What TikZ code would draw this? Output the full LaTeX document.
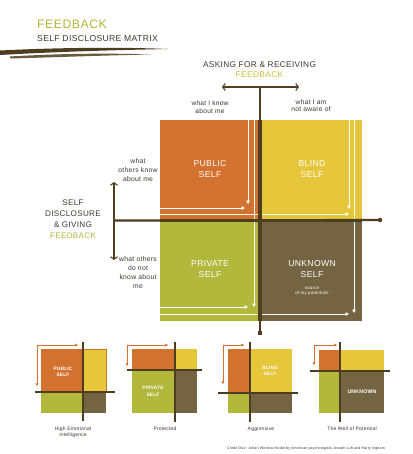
\documentclass[tikz,border=0pt]{standalone}
\usepackage{fontspec}
\setmainfont{Liberation Sans}[LetterSpace=4]
\usetikzlibrary{arrows.meta}
\definecolor{qorange}{HTML}{D3722F}
\definecolor{qyellow}{HTML}{E6C63B}
\definecolor{qgreen}{HTML}{B2B83C}
\definecolor{qbrown}{HTML}{746442}
\definecolor{linedark}{HTML}{4E3D1F}
\definecolor{textdark}{HTML}{3F372C}
\definecolor{fbgreen}{HTML}{B0B83A}
\definecolor{fbyellow}{HTML}{C9C23A}
\newcommand\fs[2]{\fontsize{#1}{#2}\selectfont}
\begin{document}
\begin{tikzpicture}[x=1pt,y=-1pt,
  lab/.style={inner sep=0pt, text=textdark, align=center},
  wlab/.style={inner sep=0pt, text=white, align=center},
  swlab/.style={wlab, font=\fs{4.8}{6.5}\bfseries},
  warrow/.style={draw=white, line width=0.9pt, -{Triangle[length=3.5pt,width=3.6pt]}},
  darkline/.style={draw=linedark},
  barbs/.style={{Straight Barb[length=2.6pt,width=7pt,line width=1.1pt]}-{Straight Barb[length=2.6pt,width=7pt,line width=1.1pt]}},
  oarrow/.style={draw=qorange, line width=0.7pt, -{Triangle[length=2.6pt,width=2.8pt]}},
  smallline/.style={draw=linedark, line width=1.3pt},
]
\useasboundingbox (0,0) rectangle (412,454);
\fill[white] (0,0) rectangle (412,454);

% ---- title brush strokes
\fill[linedark] (0,50.5) .. controls (60,47.5) and (120,47) .. (168,49)
   .. controls (120,50) and (60,51.5) .. (0,55) -- cycle;
\fill[linedark!85] (10,56.5) .. controls (60,53.5) and (110,53) .. (150,54.5)
   .. controls (100,55.5) and (50,57.5) .. (10,58.5) -- cycle;

% ---- main quadrants
\fill[qorange] (160,120) rectangle (260,220);
\fill[qyellow] (260,120) rectangle (362,220);
\fill[qgreen]  (160,220) rectangle (260,321);
\fill[qbrown]  (260,220) rectangle (362,321);

% ---- white arrows
\coordinate (v1s) at (248,120); \coordinate (v1e) at (248,204);
\coordinate (v2s) at (254,120); \coordinate (v2e) at (254,307);
\coordinate (v3s) at (349,120); \coordinate (v3e) at (349,209);
\coordinate (v4s) at (354,120); \coordinate (v4e) at (354,313);
\coordinate (h1s) at (160,208); \coordinate (h1e) at (245,208);
\coordinate (h2s) at (160,214); \coordinate (h2e) at (349,214);
\coordinate (h3s) at (160,307); \coordinate (h3e) at (248,307);
\coordinate (h4s) at (160,314); \coordinate (h4e) at (349,314);
\foreach \a/\b in {v1s/v1e,v2s/v2e,v3s/v3e,v4s/v4e,h1s/h1e,h2s/h2e,h3s/h3e,h4s/h4e}
  \draw[warrow] (\a) -- (\b);

% ---- dark axes
\coordinate (topL) at (222,87); \coordinate (topR) at (299,87);
\coordinate (vtop) at (260,87); \coordinate (vbot) at (260,333);
\coordinate (lT) at (114,182); \coordinate (lB) at (114,260);
\coordinate (hL) at (114,220.5); \coordinate (hR) at (380,220);
\draw[darkline, line width=2.2pt, barbs] (topL) -- (topR);
\draw[darkline, line width=2.6pt] (vtop) -- (vbot);
\draw[darkline, line width=3.8pt] (260,120) -- (260,321);
\fill[linedark] (257.8,330.5) rectangle (262.2,334.8);
\draw[darkline, line width=2.3pt, barbs] (lT) -- (lB);
\draw[darkline, line width=2.2pt] (hL) -- (hR);
\draw[darkline, line width=3.6pt] (160,220.5) -- (362,220.5);
\fill[linedark] (hR) circle (2.2);

% ---- main texts
\node[lab, font=\fs{12.3}{13}, text=fbgreen, anchor=west] (title) at (37,24.5) {FEEDBACK};
\node[lab, font=\fs{8.6}{9}, anchor=west] (subtitle) at (37,38.5) {SELF DISCLOSURE MATRIX};
\node[lab, font=\fs{8.3}{9}] (asking) at (259.5,64.5) {ASKING FOR \& RECEIVING};
\node[lab, font=\fs{8.4}{9}, text=fbyellow] (askfb) at (259.5,74.5) {FEEDBACK};
\node[lab, font=\fs{6.6}{8}] (know) at (210,107) {what I know\\about me};
\node[lab, font=\fs{6.7}{7.5}] (notaware) at (311,105.5) {what I am\\not aware of};
\node[lab, font=\fs{6.8}{9}] (othersknow) at (138,170) {what\\others know\\about me};
\node[lab, font=\fs{6.8}{9}] (othersnot) at (138,272.5) {what others\\do not\\know about\\me};
\node[lab, font=\fs{8.1}{11}] (selfdisc) at (73,219.5) {SELF\\DISCLOSURE\\\& GIVING\\\textcolor{fbgreen}{FEEDBACK}};
\node[wlab, font=\fs{8.6}{11}] (public) at (210,169.5) {PUBLIC\\SELF};
\node[wlab, font=\fs{8.6}{11}] (blind) at (312,169.5) {BLIND\\SELF};
\node[wlab, font=\fs{8.6}{11}] (private) at (210,269.5) {PRIVATE\\SELF};
\node[wlab, font=\fs{8.6}{11}] (unknown) at (312,269.5) {UNKNOWN\\SELF};
\node[wlab, font=\fs{4.4}{5.5}] (source) at (312,291.5) {source\\of my potentials};

% ---- small matrix 1: High Emotional Intelligence
\fill[qorange] (41,349) rectangle (83,392);
\fill[qyellow] (83,349) rectangle (106,392);
\draw[qorange, line width=0.6pt] (83,349) rectangle (106,392);
\fill[qgreen]  (41,392) rectangle (83,413);
\fill[qbrown]  (83,392) rectangle (106,413);
\coordinate (a1v1) at (83,342); \coordinate (a1v2) at (83,421);
\coordinate (a1h1) at (35,392); \coordinate (a1h2) at (115,392);
\draw[smallline] (a1v1) -- (a1v2);
\draw[smallline] (a1h1) -- (a1h2);
\coordinate (a1c) at (37,345); \coordinate (a1r) at (78,345); \coordinate (a1d) at (37,386);
\draw[oarrow] (a1c) -- (a1r);
\draw[oarrow] (a1c) -- (a1d);
\node[swlab] (s1) at (63,372) {PUBLIC\\SELF};
\node[lab, font=\fs{5}{6.3}] (c1) at (73,432) {High Emotional\\Intelligence};

% ---- small matrix 2: Protected
\fill[qorange] (132,349) rectangle (175,370);
\fill[qyellow] (175,349) rectangle (197,370);
\fill[qgreen]  (132,370) rectangle (175,413);
\fill[qbrown]  (175,370) rectangle (197,413);
\coordinate (a2v1) at (175,342); \coordinate (a2v2) at (175,422);
\coordinate (a2h1) at (127,370); \coordinate (a2h2) at (202,370);
\draw[smallline] (a2v1) -- (a2v2);
\draw[smallline] (a2h1) -- (a2h2);
\coordinate (a2c) at (127,345); \coordinate (a2r) at (168,345); \coordinate (a2d) at (127,366);
\draw[oarrow] (a2c) -- (a2r);
\draw[oarrow] (a2c) -- (a2d);
\node[swlab] (s2) at (153,391.5) {PRIVATE\\SELF};
\node[lab, font=\fs{5}{6.3}] (c2) at (165,429) {Protected};

% ---- small matrix 3: Aggressive
\fill[qorange] (228,349) rectangle (250,393);
\fill[qyellow] (250,349) rectangle (292,393);
\fill[qgreen]  (228,393) rectangle (250,413);
\fill[qbrown]  (250,393) rectangle (292,413);
\coordinate (a3v1) at (250,342); \coordinate (a3v2) at (250,422);
\coordinate (a3h1) at (218,393); \coordinate (a3h2) at (298,393);
\draw[smallline] (a3v1) -- (a3v2);
\draw[smallline] (a3h1) -- (a3h2);
\coordinate (a3c) at (223,345); \coordinate (a3r) at (244,345); \coordinate (a3d) at (223,384);
\draw[oarrow] (a3c) -- (a3r);
\draw[oarrow] (a3c) -- (a3d);
\node[swlab] (s3) at (270,371) {BLIND\\SELF};
\node[lab, font=\fs{5}{6.3}] (c3) at (261,429) {Aggressive};

% ---- small matrix 4: The Well of Potential
\fill[qorange] (319,350) rectangle (340,371);
\fill[qyellow] (340,350) rectangle (384,371);
\fill[qgreen]  (319,371) rectangle (340,413);
\fill[qbrown]  (340,371) rectangle (384,413);
\coordinate (a4v1) at (340,342); \coordinate (a4v2) at (340,422);
\coordinate (a4h1) at (310,371); \coordinate (a4h2) at (390,371);
\draw[smallline] (a4v1) -- (a4v2);
\draw[smallline] (a4h1) -- (a4h2);
\coordinate (a4c) at (314,345); \coordinate (a4r) at (337,345); \coordinate (a4d) at (314,365);
\draw[oarrow] (a4c) -- (a4r);
\draw[oarrow] (a4c) -- (a4d);
\node[swlab, font=\fs{5.2}{6.5}\bfseries] (s4) at (362,392) {UNKNOWN};
\node[lab, font=\fs{5}{6.3}] (c4) at (352,429) {The Well of Potential};

\node[lab, font=\fs{3.6}{4}] (credit) at (306,449) {Credit Due: Johari Window Model by American psychologists Joseph Luft and Harry Ingham};
\end{tikzpicture}
\end{document}
